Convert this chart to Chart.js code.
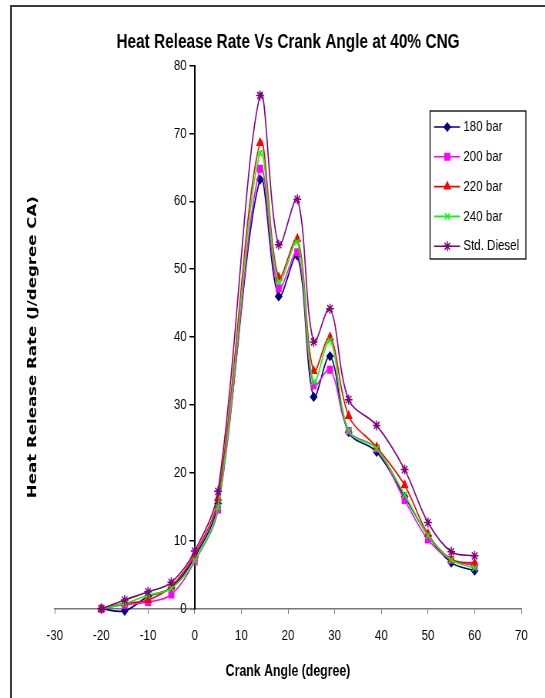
<!DOCTYPE html>
<html>
<head>
<meta charset="utf-8">
<script src="https://cdn.jsdelivr.net/npm/chart.js@4.4.1/dist/chart.umd.min.js"></script>
<style>
  html, body { margin: 0; padding: 0; background: #fff; overflow: hidden; width: 545px; height: 698px; }
  #frame { position: absolute; left: 10px; top: 5px; width: 700px; height: 800px; border: 2px solid #3a3a3a; box-sizing: border-box; }
  /* the chart is laid out wide and squeezed to the page width */
  #wrap { position: absolute; left: 0; top: 0; width: 708px; height: 698px; transform: scaleX(0.77); transform-origin: 0 0; }
</style>
</head>
<body>
<div id="frame"></div>
<div id="wrap"><canvas id="hrr" width="708" height="698"></canvas></div>
<script>
// crank angle (deg) at each sample
const angles = [-20, -15, -10, -5, 0, 5, 14, 18, 22, 25.5, 29, 33, 39, 45, 50, 55, 60]

// heat release rate, J/degree CA
const bar180 = [0, -0.3, 1.8, 3.1, 7.6, 15.5, 63.2, 46.0, 52.0, 31.2, 37.2, 26.0, 23.1, 16.5, 10.8, 6.8, 5.6]
const bar200 = [0, 0.6, 1.0, 2.1, 7.0, 14.6, 64.8, 47.2, 52.5, 32.9, 35.2, 26.2, 23.6, 16.0, 10.2, 7.2, 6.4]
const bar220 = [0, 0.8, 1.3, 3.3, 8.0, 16.3, 68.6, 48.8, 54.5, 35.0, 40.0, 28.4, 23.8, 18.2, 11.0, 7.3, 6.7]
const bar240 = [0, 0.8, 2.0, 3.0, 7.1, 15.0, 67.1, 48.1, 54.0, 33.4, 39.5, 26.2, 23.6, 16.8, 10.8, 7.2, 6.0]
const stdDiesel = [0, 1.3, 2.5, 3.9, 8.5, 17.3, 75.6, 53.6, 60.3, 39.3, 44.2, 30.8, 27.0, 20.5, 12.7, 8.4, 7.8]

const seriesNames = ['180 bar', '200 bar', '220 bar', '240 bar', 'Std. Diesel']
const seriesValues = [bar180, bar200, bar220, bar240, stdDiesel]

const xRange = [-30, 70]
const yRange = [0, 80]
const tickStep = 10

const looks = [
  { color: '#000080', point: 'rectRot', r: 4 },
  { color: '#ff00ff', point: 'rect', r: 4.5 },
  { color: '#ff0000', point: 'triangle', r: 4.5 },
  { color: '#00ff00', point: 'crossRot', r: 4.5 },
  { color: '#800080', point: 'star', r: 5 }
]

const font = '"Liberation Sans", Arial, sans-serif'

// boxed legend on the right, inside the plot
const legendBox = {
  id: 'legendBox',
  afterDraw(chart) {
    const ctx = chart.ctx
    ctx.save()
    ctx.fillStyle = '#fff'
    ctx.fillRect(558.5, 111, 124.5, 148)
    ctx.strokeStyle = '#000'
    ctx.lineWidth = 1.3
    ctx.strokeRect(558.5, 111, 124.5, 148)
    chart.data.datasets.forEach((ds, i) => {
      const y = 127 + i * 29.8
      ctx.strokeStyle = ds.borderColor
      ctx.lineWidth = ds.borderWidth
      ctx.beginPath()
      ctx.moveTo(563.6, y)
      ctx.lineTo(597.4, y)
      ctx.stroke()
      ctx.fillStyle = ds.pointBackgroundColor
      ctx.lineWidth = ds.pointBorderWidth
      Chart.helpers.drawPoint(ctx, {
        pointStyle: ds.pointStyle,
        radius: ds.pointRadius,
        rotation: 0,
        borderWidth: ds.pointBorderWidth
      }, 580.9, y)
      ctx.fillStyle = '#000'
      ctx.font = '15px ' + font
      ctx.textBaseline = 'middle'
      ctx.textAlign = 'left'
      ctx.fillText(ds.label, 601.7, y)
    })
    ctx.restore()
  }
}

// the value-axis caption sits a little below the middle of the plot
const lowerCaption = {
  id: 'lowerCaption',
  afterLayout(chart) {
    chart.scales.yTitle.top += 20
  }
}

new Chart(document.getElementById('hrr').getContext('2d'), {
  type: 'line',
  data: {
    datasets: seriesNames.map((label, i) => ({
      label,
      data: angles.map((a, j) => ({ x: a, y: seriesValues[i][j] })),
      borderColor: looks[i].color,
      borderWidth: 1.6,
      pointStyle: looks[i].point,
      pointRadius: looks[i].r,
      pointBackgroundColor: looks[i].color,
      pointBorderColor: looks[i].color,
      pointBorderWidth: 1.5,
      tension: 0.35,
      fill: false,
      clip: false,
      order: seriesNames.length - i
    }))
  },
  options: {
    responsive: false,
    animation: false,
    events: [],
    layout: { padding: { left: 20, right: 31, top: 0, bottom: 0 } },
    plugins: {
      legend: { display: false },
      tooltip: { enabled: false },
      title: {
        display: true,
        fullSize: false,
        text: 'Heat Release Rate Vs Crank Angle at 40% CNG',
        color: '#000',
        font: { family: font, size: 20, weight: 'bold' },
        padding: { top: 30, bottom: 11.5 }
      }
    },
    scales: {
      x: {
        type: 'linear',
        position: 'bottom',
        min: xRange[0],
        max: xRange[1],
        grid: { drawOnChartArea: false, drawTicks: true, tickLength: 5, color: '#777' },
        border: { color: '#777', width: 1.5 },
        ticks: { stepSize: tickStep, padding: 13, color: '#000', font: { family: font, size: 15 } },
        title: {
          display: true,
          text: 'Crank Angle (degree)',
          color: '#000',
          font: { family: font, size: 16, weight: 'bold' },
          padding: { top: 4, bottom: 17 }
        }
      },
      y: {
        type: 'linear',
        position: { x: 0 },
        min: yRange[0],
        max: yRange[1],
        grid: { drawOnChartArea: false, drawTicks: true, tickLength: 6, color: '#000', lineWidth: 1.5 },
        border: { color: '#000', width: 2 },
        // labels sit right-aligned on the axis line, so pad them clear of the tick marks
        ticks: {
          stepSize: tickStep,
          color: '#000',
          font: { family: font, size: 15 },
          callback: v => v + '\u2002\u2009'
        }
      },
      yTitle: {
        type: 'linear',
        position: 'left',
        min: yRange[0],
        max: yRange[1],
        grid: { display: false, drawTicks: false },
        border: { display: false },
        ticks: { display: false },
        title: {
          display: true,
          text: 'Heat Release Rate (J/degree CA)',
          color: '#000',
          font: { family: '"DejaVu Sans", sans-serif', size: 16.6, weight: 'bold' },
          padding: { top: 12.6, bottom: 18.5 }
        }
      }
    }
  },
  plugins: [legendBox, lowerCaption]
})
</script>
</body>
</html>
